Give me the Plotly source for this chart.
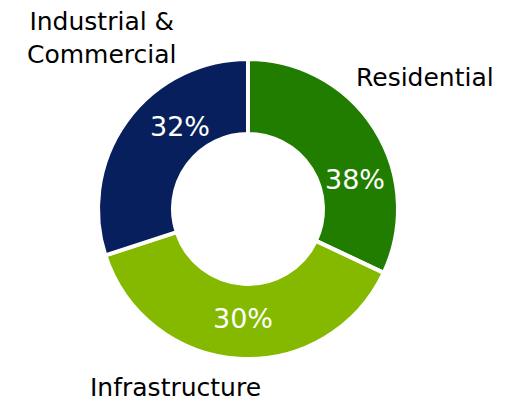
import plotly.graph_objects as go

categories = ["Residential", "Infrastructure", "Industrial &<br>Commercial"]
arc_values = [32, 38, 30]          # slice sizes as drawn in the reference
shown_shares = ["38%", "30%", "32%"]  # percentages printed on the slices
colors = ["#217d00", "#84b900", "#071f5c"]

W, H = 505, 401
OFF = 8  # page body margin offset
cx, cy, r = 248 - OFF, 209 - OFF, 150

fig = go.Figure(go.Pie(
    labels=categories,
    values=arc_values,
    hole=0.5,
    sort=False,
    direction="clockwise",
    rotation=0,
    marker=dict(colors=colors, line=dict(color="white", width=4)),
    textinfo="none",
    showlegend=False,
    customdata=shown_shares,
    hovertemplate="%{label}: %{customdata}<extra></extra>",
    domain=dict(x=[(cx - r) / W, (cx + r) / W], y=[(H - cy - r) / H, (H - cy + r) / H]),
))

FONT = "DejaVu Sans"

label_pos = {
    "Residential": (425, 77),
    "Infrastructure": (175, 387),
    "Industrial &<br>Commercial": (102, 38),
}
for name in categories:
    x, y = label_pos[name]
    fig.add_annotation(
        x=(x - OFF) / W, y=1 - (y - OFF) / H, xref="paper", yref="paper",
        text=name, showarrow=False,
        font=dict(size=25, color="black", family=FONT),
        xanchor="center", yanchor="middle", align="center",
        borderpad=0,
    )

pct_pos = [(355, 180), (243, 318), (180, 126)]
for txt, (x, y) in zip(shown_shares, pct_pos):
    fig.add_annotation(
        x=(x - OFF) / W, y=1 - (y - OFF) / H, xref="paper", yref="paper",
        text=txt, showarrow=False,
        font=dict(size=27, color="white", family=FONT),
        xanchor="center", yanchor="middle",
    )

fig.update_layout(
    width=W, height=H,
    margin=dict(l=0, r=0, t=0, b=0),
    paper_bgcolor="white",
    plot_bgcolor="white",
)
fig.write_html("out.html")
